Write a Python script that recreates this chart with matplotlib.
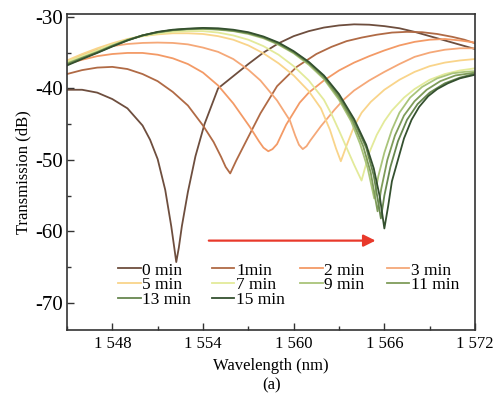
import matplotlib
matplotlib.use("Agg")
import matplotlib.pyplot as plt
from matplotlib.legend import Legend
from matplotlib.ticker import MultipleLocator, FuncFormatter

plt.rcParams['font.family'] = ['Liberation Serif', 'DejaVu Serif']
plt.rcParams['axes.unicode_minus'] = False

# legend labels as printed in the figure
labels = ['0 min', '1min', '2 min', '3 min', '5 min', '7 min', '9 min', '11 min', '13 min', '15 min']
colors = ['#6e4e3e', '#b06a45', '#f39a66', '#f5a878', '#f9d48a',
          '#e3ea9a', '#a9c47a', '#7f9c5a', '#67874f', '#34502f']

base = list(range(1545, 1562))

wl_0 = [1545, 1546, 1547, 1548, 1549, 1550, 1550.5, 1551, 1551.5, 1551.9, 1552.1, 1552.23,
        1552.4, 1552.6, 1553, 1553.5, 1554.1, 1555, 1556, 1557, 1558, 1559, 1560, 1561,
        1562, 1563, 1564, 1565, 1566, 1567, 1568, 1569, 1570, 1571, 1572]
db_0 = [-40.2, -40.2, -40.6, -41.5, -42.8, -45.2, -47.2, -49.9, -54.2, -59.3, -62.3, -64.3,
        -62.3, -59.3, -54.5, -49.5, -45.0, -40.0, -38.3, -36.6, -35.0, -33.7, -32.7, -32.0,
        -31.5, -31.2, -31.05, -31.1, -31.3, -31.6, -32.1, -32.7, -33.3, -33.9, -34.5]

wl_1 = [1545, 1546, 1547, 1548, 1549, 1550, 1551, 1552, 1553, 1554, 1554.7, 1555.2, 1555.5,
        1555.8, 1556.2, 1556.9, 1557.8, 1558.9, 1560.2, 1561.5, 1562.5, 1563.5, 1564.5,
        1565.5, 1566.5, 1567.5, 1568.5, 1569.5, 1570.5, 1571.3, 1572]
db_1 = [-38.0, -37.45, -37.1, -37.0, -37.3, -38.0, -39.0, -40.5, -42.4, -45.2, -47.5, -49.6, -51.0,
        -51.9, -50.1, -47.2, -43.5, -39.7, -37.0, -35.2, -34.2, -33.4, -32.9,
        -32.5, -32.2, -32.1, -32.15, -32.4, -32.8, -33.2, -33.7]

wl_2 = [1545, 1546, 1547, 1548, 1549, 1550, 1551, 1552, 1553, 1554, 1555, 1556, 1556.6, 1557.1,
        1557.7, 1558.0, 1558.32, 1558.6, 1558.9, 1559.5, 1560.4, 1561, 1562, 1563, 1564, 1565,
        1566, 1567, 1568, 1569, 1570, 1571, 1572]
db_2 = [-36.6, -36.0, -35.5, -35.2, -35.05, -35.05, -35.3, -35.8, -36.6, -37.8, -39.6, -42.1, -43.9, -45.4,
        -47.4, -48.3, -48.8, -48.5, -47.8, -45.1, -42.0, -40.6, -38.9, -37.5, -36.4, -35.5,
        -34.7, -34.0, -33.5, -33.2, -33.1, -33.3, -33.6]

wl_3 = [1545, 1546, 1547, 1548, 1549, 1550, 1551, 1552, 1553, 1554, 1555, 1556, 1557, 1557.8,
        1558.9, 1559.75, 1560.1, 1560.35, 1560.6, 1560.85, 1561.1, 1561.8, 1562.7, 1563.3, 1564,
        1565, 1566, 1567, 1568, 1569, 1570, 1571, 1572]
db_3 = [-36.4, -35.3, -34.6, -34.1, -33.8, -33.65, -33.6, -33.65, -33.85, -34.3, -34.9, -35.9, -37.4, -38.9,
        -41.7, -44.5, -46.6, -47.9, -48.5, -48.1, -47.3, -45.3, -43.0, -41.6, -40.3,
        -38.9, -37.7, -36.6, -35.6, -35.0, -34.6, -34.4, -34.4]

wl_5 = base[:16] + [1561, 1561.8, 1562.4, 1562.8, 1563.12, 1563.5, 1564, 1564.5, 1565.1, 1566,
                    1567, 1568, 1569, 1570, 1571, 1572]
db_5 = [-36.1, -35.2, -34.4, -33.7, -33.1, -32.7, -32.45, -32.3, -32.3, -32.4, -32.7, -33.2, -34.0,
        -35.1, -36.5, -38.2, -40.4, -42.8, -45.8, -48.4, -50.2, -48.0, -45.3, -43.4, -41.9, -40.2,
        -38.8, -37.7, -36.9, -36.4, -36.1, -35.9]

wl_7 = base + [1562, 1562.5, 1563, 1563.5, 1564, 1564.49, 1565, 1565.5, 1566, 1566.5, 1567.3,
               1568, 1569, 1570, 1571, 1572]
db_7 = [-36.3, -35.5, -34.7, -33.9, -33.2, -32.7, -32.35, -32.1, -32.0, -32.0, -32.2, -32.6, -33.2,
        -34.1, -35.3, -36.9, -38.9, -41.6, -43.6, -45.9, -48.3, -50.7, -52.9, -49.0, -46.5, -44.6,
        -43.1, -41.3, -40.1, -38.8, -38.0, -37.5, -37.2]

wl_9 = base + [1562, 1563, 1563.8, 1564.4, 1564.9, 1565.33, 1565.6, 1566, 1566.5, 1567, 1567.7,
               1568.5, 1569.5, 1570.5, 1571.3, 1572]
db_9 = [-36.5, -35.7, -34.9, -34.0, -33.2, -32.6, -32.2, -31.9, -31.75, -31.7, -31.8, -32.0, -32.4,
        -33.0, -33.9, -35.1, -36.7, -38.7, -41.6, -44.6, -47.8, -51.2, -55.4, -52.3, -49.0, -45.8,
        -43.4, -41.3, -39.8, -38.6, -37.9, -37.7, -37.6]

wl_11 = base + [1562, 1563, 1563.9, 1564.6, 1565.1, 1565.55, 1565.8, 1566.2, 1566.7, 1567.3,
                1568, 1568.8, 1569.7, 1570.7, 1572]
db_11 = [-36.6, -35.75, -34.95, -34.05, -33.25, -32.6, -32.15, -31.85, -31.7, -31.65, -31.75, -31.95,
         -32.3, -32.9, -33.8, -35.0, -36.5, -38.5, -41.3, -44.6, -48.1, -51.8, -57.2, -54.0, -50.0,
         -46.6, -43.8, -41.8, -40.2, -39.0, -38.2, -37.8]

wl_13 = base + [1562, 1563, 1564, 1564.8, 1565.3, 1565.77, 1566.0, 1566.4, 1566.9, 1567.5,
                1568.2, 1569, 1570, 1571, 1572]
db_13 = [-36.7, -35.8, -35.0, -34.1, -33.3, -32.6, -32.15, -31.85, -31.7, -31.6, -31.7, -31.9,
         -32.25, -32.85, -33.7, -34.9, -36.4, -38.3, -41.0, -44.6, -48.3, -52.2, -58.2, -55.0, -51.0,
         -47.4, -44.4, -42.2, -40.6, -39.3, -38.5, -37.95]

wl_15 = base + [1562, 1563, 1564, 1564.8, 1565.3, 1565.7, 1566.0, 1566.25, 1566.5, 1566.9,
                1567.3, 1567.8, 1568.3, 1568.9, 1569.5, 1570.2, 1571, 1572]
db_15 = [-36.8, -35.9, -35.05, -34.15, -33.3, -32.6, -32.1, -31.8, -31.65, -31.55, -31.6, -31.8,
         -32.15, -32.75, -33.6, -34.8, -36.3, -38.2, -40.8, -44.3, -47.9, -51.2, -55.2, -59.6, -56.5,
         -53.0, -50.0, -47.0, -44.4, -42.6, -41.1, -40.1, -39.3, -38.6, -38.1]

series_wl = [wl_0, wl_1, wl_2, wl_3, wl_5, wl_7, wl_9, wl_11, wl_13, wl_15]
series_db = [db_0, db_1, db_2, db_3, db_5, db_7, db_9, db_11, db_13, db_15]

x_ticks = [1548, 1554, 1560, 1566, 1572]
y_ticks = [-70, -60, -50, -40, -30]
arrow_from = (1554.2, -61.3)
arrow_to = (1565.6, -61.3)

fig = plt.figure(figsize=(4.94, 3.96), dpi=100)
ax = fig.add_axes([0.1356, 0.1667, 0.826, 0.798])

handles = []
for wl, db, c, lab in zip(series_wl, series_db, colors, labels):
    h, = ax.plot(wl, db, color=c, lw=1.3, label=lab)
    handles.append(h)

ax.annotate('', xy=arrow_to, xytext=arrow_from,
            arrowprops=dict(arrowstyle='-|>', color='#e8392b', lw=1.6, mutation_scale=18))

ax.set_xlim(1545, 1572)
ax.set_ylim(-73.8, -29.6)
ax.set_xticks(x_ticks)
ax.xaxis.set_minor_locator(MultipleLocator(3))
ax.set_yticks(y_ticks)
ax.yaxis.set_minor_locator(MultipleLocator(5))
ax.xaxis.set_major_formatter(FuncFormatter(lambda v, p: '%d %03d' % (int(v) // 1000, int(v) % 1000)))
ax.yaxis.set_major_formatter(FuncFormatter(lambda v, p: '%d' % v))
ax.tick_params(direction='in', which='major', length=5, width=1, color='#333333')
ax.tick_params(direction='in', which='minor', length=3, width=1, color='#333333')
ax.tick_params(axis='x', labelsize=12, pad=4)
ax.tick_params(axis='y', labelsize=15, pad=3)
for s in ax.spines.values():
    s.set_color('#333333')
    s.set_linewidth(1.2)

ax.set_xlabel('Wavelength (nm)', fontsize=12, labelpad=5)
ax.set_ylabel('Transmission (dB)', fontsize=12, labelpad=3)
fig.text(0.549, 0.028, '(a)', fontsize=12, ha='center', va='center')

# legend laid out column by column, as in the figure
columns = [[0, 4, 8], [1, 5, 9], [2, 6], [3, 7]]
col_x = [0.125, 0.355, 0.571, 0.784]
for cols, cx in zip(columns, col_x):
    leg = Legend(ax, [handles[i] for i in cols], [labels[i] for i in cols], frameon=False,
                 loc='upper left', bbox_to_anchor=(cx, 0.214), fontsize=12.5, handlelength=1.3,
                 handletextpad=0.1, labelspacing=-0.08, borderpad=0, borderaxespad=0)
    ax.add_artist(leg)

fig.savefig('out.png', dpi=100)
